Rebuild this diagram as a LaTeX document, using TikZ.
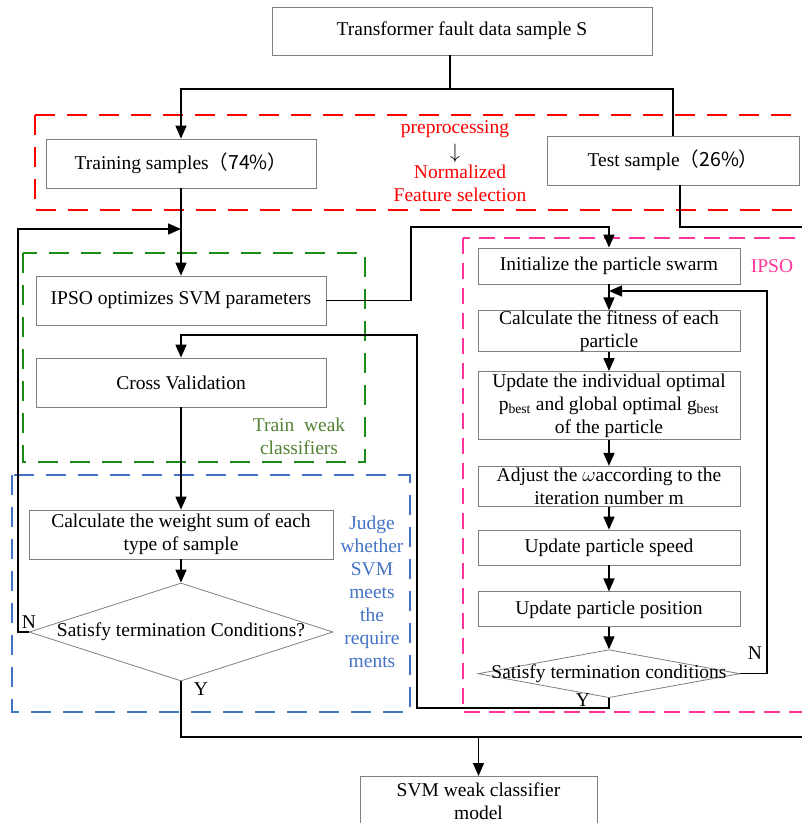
\documentclass[tikz,border=0pt]{standalone}
\usepackage{fontspec}
\setmainfont{Liberation Serif}
\newfontfamily\cjk{Noto Sans CJK SC}
\usepackage{tikz}
\usetikzlibrary{arrows.meta,positioning,shapes.geometric}
\definecolor{PreRed}{HTML}{FF0000}
\definecolor{TrainGreen}{HTML}{1A8C1A}
\definecolor{TrainText}{HTML}{548235}
\definecolor{JudgeBlue}{HTML}{4472C4}
\definecolor{IpsoPink}{HTML}{FF3399}
\definecolor{BoxGray}{HTML}{7F7F7F}
\tikzset{
  fc/text/.style={font=\fontsize{19.5}{23}\selectfont},
  fc/process/.style={draw=BoxGray, line width=0.8pt, align=center, inner xsep=2pt, inner ysep=0pt, fc/text},
  fc/decision/.style={draw=BoxGray, line width=0.8pt, diamond, inner sep=0pt, fc/text},
  fc/group/.style={line width=1.3pt, dash pattern=on 20pt off 12pt},
  fc/note/.style={fc/text, align=center, inner sep=0pt},
  fc/yn/.style={fc/text, inner sep=0pt},
  fc/line/.style={line width=1.5pt},
  arr/.style={fc/line, -{Triangle[length=13pt,width=11pt]}}
}

\begin{document}
\begin{tikzpicture}[x=1pt, y=-1pt]
  \useasboundingbox (0,0) rectangle (802,823);
  \clip (0,0) rectangle (802,823);

  \draw[fc/group, PreRed] (35,115) rectangle (830,210);
  \draw[fc/group, TrainGreen] (23,253) rectangle (365,462);
  \draw[fc/group, JudgeBlue] (12,475) rectangle (410,712);
  \draw[fc/group, IpsoPink, dash pattern=on 16pt off 9pt] (463,238) rectangle (830,712);

  \node[fc/process, minimum width=380pt, minimum height=48pt] (sample) at (462,31) {Transformer fault data sample S};
  \node[fc/process, minimum width=270pt, minimum height=49pt] (train) at (181,163.5) {Training samples\cjk{（}74\%\cjk{）}};
  \node[fc/process, minimum width=252pt, minimum height=49pt] (test) at (673,160.5) {Test sample\cjk{（}26\%\cjk{）}};
  \node[fc/process, minimum width=290pt, minimum height=49pt] (ipsosvm) at (181,300.5) {IPSO optimizes SVM parameters};
  \node[fc/process, minimum width=290pt, minimum height=49pt] (cv) at (181,382.5) {Cross Validation};
  \node[fc/process, minimum width=304pt, minimum height=49pt] (weight) at (181,534.5) {Calculate the weight sum of each\\type of sample};
  \node[fc/decision, minimum width=304pt, minimum height=98pt] (judge) at (181,632) {\makebox[0pt]{Satisfy termination Conditions?}};
  \node[fc/process, minimum width=237pt, minimum height=50pt, anchor=north] (model) at (478.5,776) {SVM weak classifier\\model};

  \node[fc/process, minimum width=262pt, minimum height=36pt] (init) at (609,266) {Initialize the particle swarm};
  \node[fc/process, minimum width=262pt, minimum height=40pt, below=26pt of init] (fitness) {Calculate the fitness of each\\particle};
  \node[fc/process, minimum width=262pt, minimum height=68pt, below=19pt of fitness] (best) {Update the individual optimal\\p\textsubscript{best} and global optimal g\textsubscript{best}\\of the particle};
  \node[fc/process, minimum width=262pt, minimum height=40pt, below=26pt of best] (omega) {Adjust the $\omega$according to the\\iteration number m};
  \node[fc/process, minimum width=262pt, minimum height=35pt, below=23pt of omega] (speed) {Update particle speed};
  \node[fc/process, minimum width=262pt, minimum height=35pt, below=26pt of speed] (position) {Update particle position};
  \node[fc/decision, minimum width=262pt, minimum height=48pt, below=22pt of position] (stop) {\makebox[0pt]{Satisfy termination conditions}};

  \node[fc/note, text=PreRed] (pre) at (455,129) {preprocessing};
  \node[fc/note, font=\fontsize{22}{23}\selectfont] (prearrow) at (455,153) {$\downarrow$};
  \node[fc/note, text=PreRed] (prestep) at (460,183) {Normalized\\Feature selection};
  \node[fc/note, text=TrainText] (trainnote) at (299,436) {Train~~weak\\classifiers};
  \node[fc/note, text=JudgeBlue] (judgenote) at (372,592) {Judge\\whether\\SVM\\meets\\the\\require\\ments};
  \node[fc/note, text=IpsoPink] (ipsonote) at (772,266) {IPSO};
  \node[fc/yn] (judgeN) at (29,622) {N};
  \node[fc/yn] (judgeY) at (201,689) {Y};
  \node[fc/yn] (stopN) at (755,653) {N};
  \node[fc/yn] (stopY) at (583,700) {Y};

  \coordinate (split) at (450,89);
  \coordinate (testout) at (815,227);
  \coordinate (hop) at (411,227);
  \coordinate (loopback) at (767,291);
  \coordinate (loopin) at (609,291);
  \coordinate (yback) at (417,708);
  \coordinate (ytop) at (417,335);
  \coordinate (nleft) at (18,229);
  \coordinate (njoin) at (181,229);
  \coordinate (yout) at (815,737);

  \draw[fc/line] (sample.south -| split) -- (split);
  \draw[arr] (split) -| (train.north);
  \draw[fc/line] (split) -| (test.north);
  \draw[fc/line] ([xshift=7pt]test.south) |- (testout);
  \draw[arr] (train) -- (ipsosvm);
  \draw[arr] (ipsosvm.east) -| (hop) -| (init.north);
  \foreach \a/\b in {init/fitness, fitness/best, best/omega, omega/speed, speed/position, position/stop}
    \draw[arr] (\a) -- (\b);
  \draw[arr] (stop.east) -| (loopback) -- (loopin);
  \draw[arr] (stop.south) |- (yback) -- (ytop) -| (cv.north);
  \draw[arr] (cv) -- (weight);
  \draw[arr] (weight) -- (judge);
  \draw[arr] (judge.west) -| (nleft) -- (njoin);
  \draw[fc/line] (judge.south) |- (yout);
  \draw[arr] (model.north |- yout) -- (model.north);
\end{tikzpicture}
\end{document}
